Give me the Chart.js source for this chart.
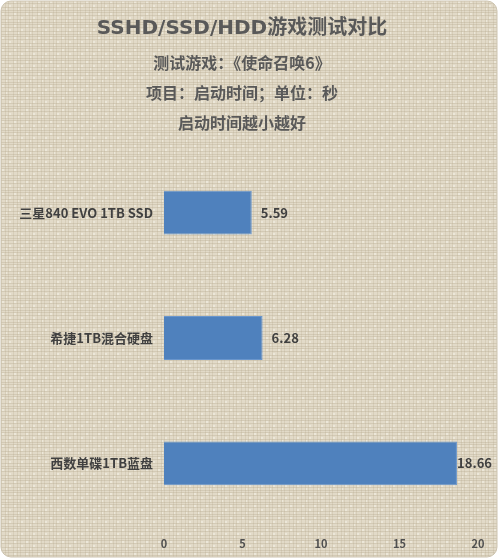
<!DOCTYPE html>
<html lang="zh">
<head>
  <meta charset="UTF-8">
  <title>SSHD/SSD/HDD游戏测试对比</title>
  <script src="https://cdn.jsdelivr.net/npm/chart.js"></script>
  <style>
    html, body { margin: 0; padding: 0; background: #fff; }
    canvas { display: block; }
  </style>
</head>
<body>
  <canvas id="chart" width="500" height="559"></canvas>
  <script>
    // 数据
    const drives = ['三星840 EVO 1TB SSD', '希捷1TB混合硬盘', '西数单碟1TB蓝盘'];
    const seconds = [5.59, 6.28, 18.66];
    const xTicks = [0, 5, 10, 15, 20];

    const FONT = '"Noto Sans CJK SC", "Noto Sans", sans-serif';
    const TITLE_FONT = '"DejaVu Sans", "Noto Sans CJK SC", sans-serif';

    // 米色布纹背景
    function linenPattern(ctx) {
      const c = document.createElement('canvas');
      c.width = 12; c.height = 12;
      const g = c.getContext('2d');
      g.fillStyle = '#e2dac8';
      g.fillRect(0, 0, 12, 12);
      g.fillStyle = 'rgba(160,145,115,0.22)';
      [0, 3, 7, 10].forEach(y => g.fillRect(0, y, 12, 1));
      g.fillStyle = 'rgba(160,145,115,0.16)';
      [1, 5, 8].forEach(x => g.fillRect(x, 0, 1, 12));
      g.fillStyle = 'rgba(255,255,248,0.35)';
      g.fillRect(2, 1, 2, 2);
      g.fillRect(9, 5, 2, 2);
      g.fillRect(6, 8, 1, 2);
      return ctx.createPattern(c, 'repeat');
    }

    const bgPlugin = {
      id: 'bg',
      beforeDraw(chart) {
        const ctx = chart.ctx;
        ctx.save();
        ctx.beginPath();
        ctx.roundRect(1, 1, chart.width - 4, chart.height - 3, 10);
        ctx.fillStyle = linenPattern(ctx);
        ctx.fill();
        ctx.strokeStyle = '#cdc4b0';
        ctx.lineWidth = 1;
        ctx.stroke();
        ctx.restore();
      }
    };

    // 数值标签
    const valueLabels = {
      id: 'valueLabels',
      afterDatasetsDraw(chart) {
        const ctx = chart.ctx;
        const meta = chart.getDatasetMeta(0);
        ctx.save();
        ctx.font = 'bold 13px ' + FONT;
        ctx.fillStyle = '#404040';
        ctx.textBaseline = 'middle';
        meta.data.forEach((bar, i) => {
          const txt = seconds[i].toFixed(2);
          const w = ctx.measureText(txt).width;
          const x = Math.min(bar.x + 9, chart.width - 8 - w);
          ctx.fillText(txt, x, bar.y);
        });
        ctx.restore();
      }
    };

    new Chart(document.getElementById('chart'), {
      type: 'bar',
      data: {
        labels: drives,
        datasets: [{
          data: seconds,
          backgroundColor: '#4f81bd',
          borderColor: '#6a96cc',
          borderWidth: 1,
          barPercentage: 0.7,
          categoryPercentage: 0.5
        }]
      },
      options: {
        indexAxis: 'y',
        responsive: false,
        animation: false,
        devicePixelRatio: 1,
        layout: { padding: { left: 6, right: 22, top: 0, bottom: 0 } },
        plugins: {
          legend: { display: false },
          tooltip: { enabled: false },
          title: {
            display: true,
            text: 'SSHD/SSD/HDD游戏测试对比',
            color: '#595959',
            font: { family: TITLE_FONT, size: 20, weight: 'bold' },
            padding: { top: 17, bottom: 7 }
          },
          subtitle: {
            display: true,
            text: ['测试游戏：《使命召唤6》', '项目：启动时间；单位：秒', '启动时间越小越好'],
            color: '#595959',
            font: { family: FONT, size: 16, weight: 'bold', lineHeight: 1.875 },
            padding: { top: 0, bottom: 12 }
          }
        },
        scales: {
          x: {
            min: 0,
            max: 20,
            afterBuildTicks: axis => { axis.ticks = xTicks.map(v => ({ value: v })); },
            afterFit: axis => { axis.height = 33; },
            grid: { display: false, drawTicks: false },
            border: { display: false },
            ticks: {
              color: '#505050',
              padding: 11,
              font: { family: FONT, size: 11, weight: 'bold' }
            }
          },
          y: {
            afterFit: axis => { axis.width = 158; },
            grid: { display: false, drawTicks: false },
            border: { display: false },
            ticks: {
              color: '#404040',
              padding: 11,
              font: { family: FONT, size: 13, weight: 'bold' }
            }
          }
        }
      },
      plugins: [bgPlugin, valueLabels]
    });
  </script>
</body>
</html>
